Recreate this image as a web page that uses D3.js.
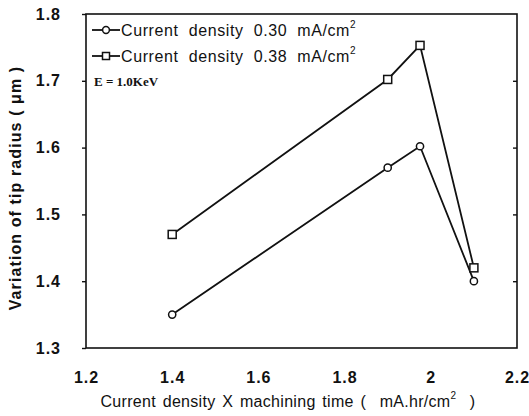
<!DOCTYPE html>
<html>
<head>
<meta charset="utf-8">
<script src="https://cdn.jsdelivr.net/npm/d3@7"></script>
<style>
  body { margin: 0; background: #fff; }
  text { font-family: "Liberation Sans", Arial, sans-serif; fill: #111; }
</style>
</head>
<body>
<svg id="chart" width="529" height="416"></svg>
<script>
const xValues = [1.4, 1.9, 1.975, 2.1];
const series030 = [1.35, 1.57, 1.602, 1.40];
const series038 = [1.47, 1.702, 1.753, 1.42];
const seriesNames = [
  "Current  density  0.30  mA/cm",
  "Current  density  0.38  mA/cm"
];
const xTicks = [1.2, 1.4, 1.6, 1.8, 2, 2.2];
const yTicks = [1.3, 1.4, 1.5, 1.6, 1.7, 1.8];

const svg = d3.select("#chart"),
  margin = { top: 14, right: 12, bottom: 68, left: 86 },
  width = +svg.attr("width") - margin.left - margin.right,
  height = +svg.attr("height") - margin.top - margin.bottom;

const g = svg.append("g")
  .attr("transform", `translate(${margin.left},${margin.top})`);

const x = d3.scaleLinear().domain([1.2, 2.2]).range([0, width]);
const y = d3.scaleLinear().domain([1.3, 1.8]).range([height, 0]);

// frame
g.append("rect")
  .attr("width", width).attr("height", height)
  .attr("fill", "none").attr("stroke", "#111").attr("stroke-width", 1.6);

// left axis (outward ticks)
const yAxis = g.append("g")
  .call(d3.axisLeft(y).tickValues(yTicks).tickSize(4).tickSizeOuter(0).tickFormat(d3.format(".1f")));
yAxis.select(".domain").remove();
yAxis.selectAll("line").attr("stroke", "#111").attr("stroke-width", 1.4);
yAxis.selectAll("text")
  .attr("x", -25).attr("font-size", "16px").attr("font-weight", "bold")
  .attr("letter-spacing", "1px")
  .style("font-family", "'Liberation Sans', Arial, sans-serif");

// right axis (inward ticks)
const yAxisR = g.append("g")
  .attr("transform", `translate(${width},0)`)
  .call(d3.axisLeft(y).tickValues(yTicks.slice(1, -1)).tickSize(4).tickSizeOuter(0).tickFormat(""));
yAxisR.select(".domain").remove();
yAxisR.selectAll("line").attr("stroke", "#111").attr("stroke-width", 1.4);

// bottom axis
const xAxis = g.append("g")
  .attr("transform", `translate(0,${height})`)
  .call(d3.axisBottom(x).tickValues(xTicks).tickSize(0).tickSizeOuter(0).tickFormat(d => d));
xAxis.select(".domain").remove();
xAxis.selectAll("text")
  .attr("y", 24).attr("font-size", "16px").attr("font-weight", "bold")
  .attr("letter-spacing", "1px")
  .style("font-family", "'Liberation Sans', Arial, sans-serif");

// lines
const line = d3.line()
  .x((d, i) => x(xValues[i]))
  .y(d => y(d));

[series030, series038].forEach(s => {
  g.append("path")
    .datum(s)
    .attr("d", line)
    .attr("fill", "none")
    .attr("stroke", "#111")
    .attr("stroke-width", 1.8);
});

// markers
g.selectAll(".circ")
  .data(series030)
  .enter().append("circle")
  .attr("cx", (d, i) => x(xValues[i]))
  .attr("cy", d => y(d))
  .attr("r", 3.6)
  .attr("fill", "#fff").attr("stroke", "#111").attr("stroke-width", 1.5);

g.selectAll(".sq")
  .data(series038)
  .enter().append("rect")
  .attr("x", (d, i) => x(xValues[i]) - 4)
  .attr("y", d => y(d) - 4)
  .attr("width", 8).attr("height", 8)
  .attr("fill", "#fff").attr("stroke", "#111").attr("stroke-width", 1.5);

// legend
const legend = g.append("g").attr("transform", "translate(6,0)");
seriesNames.forEach((name, i) => {
  const ly = 16 + i * 26;
  legend.append("line")
    .attr("x1", 0).attr("x2", 28).attr("y1", ly).attr("y2", ly)
    .attr("stroke", "#111").attr("stroke-width", 1.8);
  if (i === 0) {
    legend.append("circle").attr("cx", 14).attr("cy", ly).attr("r", 3.4)
      .attr("fill", "#fff").attr("stroke", "#111").attr("stroke-width", 1.5);
  } else {
    legend.append("rect").attr("x", 10.5).attr("y", ly - 3.5).attr("width", 7).attr("height", 7)
      .attr("fill", "#fff").attr("stroke", "#111").attr("stroke-width", 1.5);
  }
  const t = legend.append("text")
    .attr("x", 29).attr("y", ly + 6)
    .attr("font-size", "16px")
    .attr("letter-spacing", "0.6px")
    .attr("xml:space", "preserve");
  t.append("tspan").text(name);
  t.append("tspan").attr("dy", -8).attr("font-size", "10px").text("2");
});

g.append("text")
  .attr("x", 8).attr("y", 72)
  .attr("font-size", "13px")
  .attr("font-weight", "bold")
  .style("font-family", "'Liberation Serif', 'Times New Roman', serif")
  .text("E = 1.0KeV");

// axis titles
const xt = svg.append("text")
  .attr("x", 288)
  .attr("y", 407)
  .attr("text-anchor", "middle")
  .attr("font-size", "16px")
  .attr("letter-spacing", "0.3px")
  .attr("word-spacing", "2px")
  .attr("xml:space", "preserve");
xt.append("tspan").text("Current density X machining time (  mA.hr/cm");
xt.append("tspan").attr("dy", -8).attr("font-size", "10px").text("2");
xt.append("tspan").attr("dy", 8).text("  )");

svg.append("text")
  .attr("transform", `translate(21,188) rotate(-90)`)
  .attr("text-anchor", "middle")
  .attr("font-size", "16px")
  .attr("font-weight", "bold")
  .attr("letter-spacing", "1.1px")
  .text("Variation of tip radius ( \u03bcm )");
</script>
</body>
</html>
